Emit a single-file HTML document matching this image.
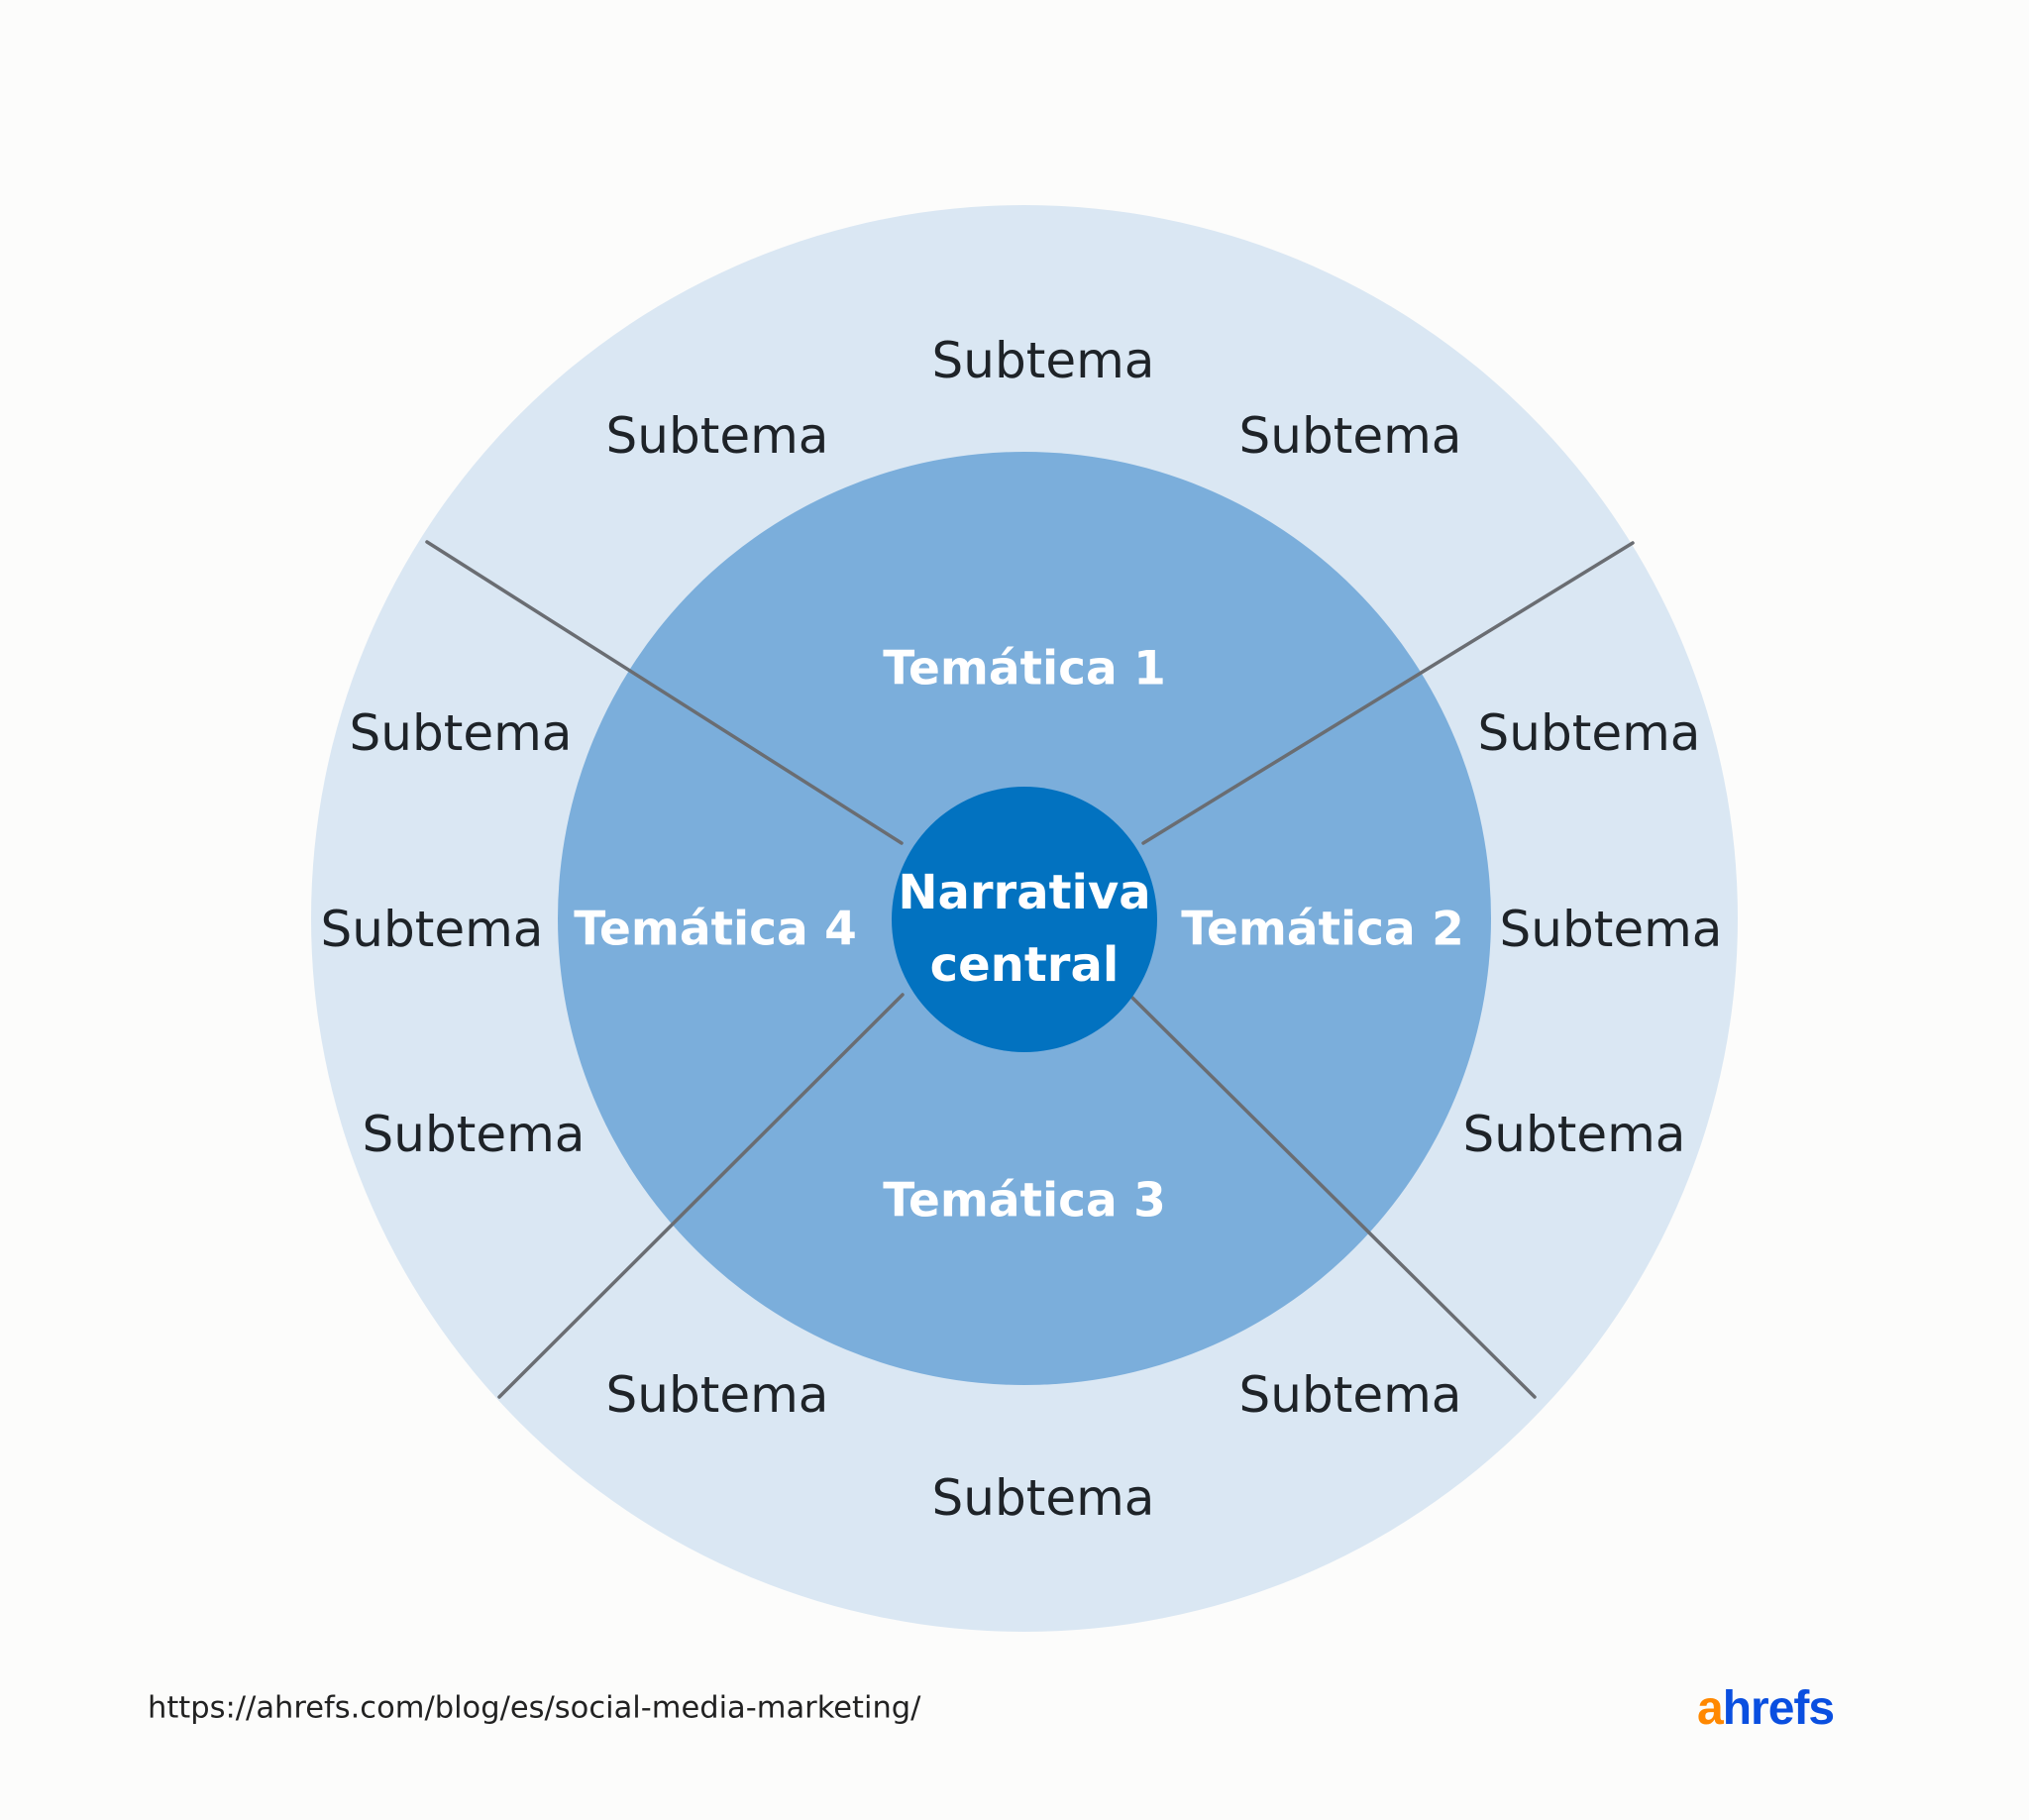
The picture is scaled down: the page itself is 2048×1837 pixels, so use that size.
<!DOCTYPE html>
<html><head><meta charset="utf-8"><style>
html,body{margin:0;padding:0;background:#fcfcfb;}
svg{display:block}
</style></head><body>
<svg width="2048" height="1837" viewBox="0 0 2048 1837" xmlns="http://www.w3.org/2000/svg">
<rect width="2048" height="1837" fill="#fcfcfb"/>
<circle cx="1034" cy="927" r="720" fill="#dae7f3"/>
<circle cx="1034" cy="927" r="471" fill="#7baedb"/>
<g stroke="#6a6d72" stroke-width="3.5" stroke-linecap="round">
<line x1="431" y1="547" x2="910" y2="851"/>
<line x1="1648" y1="548" x2="1154" y2="851"/>
<line x1="504" y1="1410" x2="911" y2="1004"/>
<line x1="1549" y1="1410" x2="1143" y2="1007"/>
</g>
<circle cx="1034" cy="928" r="134" fill="#0272c0"/>
<g font-family="'DejaVu Sans','Liberation Sans',sans-serif" font-size="50" fill="#1e2328" text-anchor="middle" dominant-baseline="central">
<text x="1053" y="364">Subtema</text>
<text x="724" y="440">Subtema</text>
<text x="1363" y="440">Subtema</text>
<text x="465" y="740">Subtema</text>
<text x="1604" y="740">Subtema</text>
<text x="436" y="938">Subtema</text>
<text x="1626" y="938">Subtema</text>
<text x="478" y="1145">Subtema</text>
<text x="1589" y="1145">Subtema</text>
<text x="724" y="1408">Subtema</text>
<text x="1363" y="1408">Subtema</text>
<text x="1053" y="1512">Subtema</text>
</g>
<g font-family="'DejaVu Sans','Liberation Sans',sans-serif" font-weight="bold" font-size="47" fill="#ffffff" text-anchor="middle" dominant-baseline="central">
<text x="1034" y="675">Temática 1</text>
<text x="722" y="938">Temática 4</text>
<text x="1335" y="938">Temática 2</text>
<text x="1034" y="1212">Temática 3</text>
<text x="1034" y="901" font-size="48">Narrativa</text>
<text x="1034" y="974" font-size="48">central</text>
</g>
<text x="149" y="1724" font-family="'DejaVu Sans','Liberation Sans',sans-serif" font-size="30.5" fill="#222" dominant-baseline="central">https://ahrefs.com/blog/es/social-media-marketing/</text>
<text x="1713" y="1724" font-family="'Liberation Sans',sans-serif" font-weight="bold" font-size="48" dominant-baseline="central" letter-spacing="-1"><tspan fill="#ff8800">a</tspan><tspan fill="#0a4fe0">hrefs</tspan></text>
</svg>
</body></html>
